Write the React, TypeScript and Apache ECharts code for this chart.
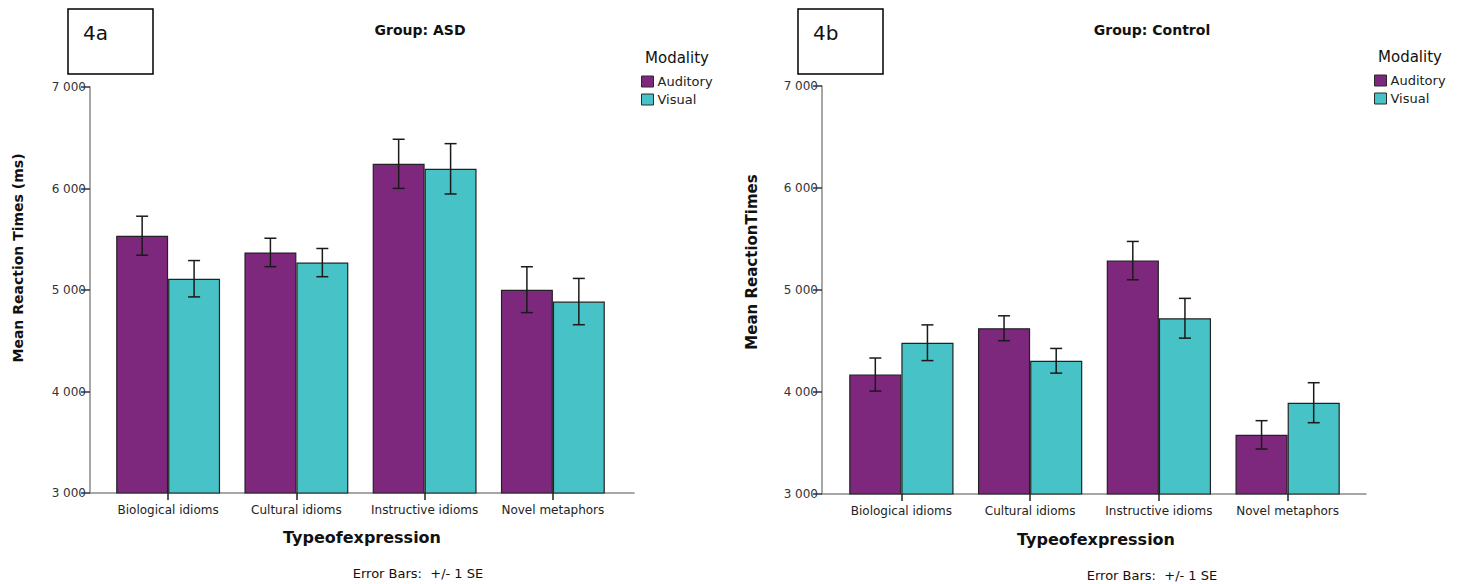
import React, { useEffect, useRef } from 'react';
import * as echarts from 'echarts';

const categories = ['Biological idioms', 'Cultural idioms', 'Instructive idioms', 'Novel metaphors'];
const modalities = ['Auditory', 'Visual'];
const yTicks = [3000, 4000, 5000, 6000, 7000];

const asdAuditoryMean = [5535, 5370, 6243, 5003];
const asdAuditorySE = [192, 140, 242, 226];
const asdVisualMean = [5111, 5270, 6194, 4886];
const asdVisualSE = [179, 139, 248, 228];

const ctrlAuditoryMean = [4171, 4625, 5288, 3580];
const ctrlAuditorySE = [162, 122, 188, 139];
const ctrlVisualMean = [4483, 4306, 4723, 3895];
const ctrlVisualSE = [175, 121, 195, 196];

const PURPLE = '#7e287d';
const TEAL = '#47c2c6';
const FONT = '"DejaVu Sans", sans-serif';
const BAR_GAP = 19; // percent
const barFrac = (1 - BAR_GAP / 100) / 2;

const fmt = (v: number) => String(v).replace(/\B(?=(\d{3})+(?!\d))/g, ' ');

function errRender(sign: number) {
  return (_params: any, api: any) => {
    const x = api.value(0);
    const lo = api.coord([x, api.value(1)]);
    const hi = api.coord([x, api.value(2)]);
    const band = api.size([1, 0])[0];
    const cx = lo[0] + sign * band * barFrac / 2;
    const cap = 6;
    const st = { stroke: '#1a1a1a', lineWidth: 1.5 };
    return {
      type: 'group',
      children: [
        { type: 'line', shape: { x1: cx, y1: hi[1], x2: cx, y2: lo[1] }, style: st },
        { type: 'line', shape: { x1: cx - cap, y1: hi[1], x2: cx + cap, y2: hi[1] }, style: st },
        { type: 'line', shape: { x1: cx - cap, y1: lo[1], x2: cx + cap, y2: lo[1] }, style: st },
      ],
    };
  };
}

const errData = (mean: number[], se: number[]) => mean.map((m, i) => [i, m - se[i], m + se[i]]);

function makeOption() {
  const grids = [
    { left: 90, top: 87, width: 544, height: 406 },
    { left: 104, top: 87, width: 513, height: 406 },
    { left: 822, top: 86, width: 544, height: 408 },
    { left: 837, top: 86, width: 515, height: 408 },
  ];
  const frameX = (gi: number) => ({
    type: 'value', gridIndex: gi, min: 0, max: 1,
    axisLine: { show: true, lineStyle: { color: '#8a8a8a', width: 1.5 } },
    axisTick: { show: false }, axisLabel: { show: false }, splitLine: { show: false },
  });
  const frameY = (gi: number) => ({
    type: 'value', gridIndex: gi, min: yTicks[0], max: yTicks[yTicks.length - 1], interval: 1000,
    axisLine: { show: true, lineStyle: { color: '#8a8a8a', width: 1.5 } },
    axisTick: { show: true, length: 9, lineStyle: { color: '#333', width: 1.5 } },
    axisLabel: { formatter: fmt, color: '#333', fontSize: 12, fontFamily: FONT, margin: 4 },
    splitLine: { show: false },
  });
  const barX = (gi: number) => ({
    type: 'category', gridIndex: gi, data: categories,
    axisLine: { show: false },
    axisTick: { show: true, alignWithLabel: true, length: 7, lineStyle: { color: '#222', width: 1.5 } },
    axisLabel: { color: '#222', fontSize: 12, fontFamily: FONT, margin: 11, interval: 0 },
  });
  const barY = (gi: number) => ({
    type: 'value', gridIndex: gi, min: yTicks[0], max: yTicks[yTicks.length - 1], show: false,
    splitLine: { show: false },
  });

  const barSeries = (name: string, color: string, data: number[], axisIdx: number) => ({
    type: 'bar', name, data, xAxisIndex: axisIdx, yAxisIndex: axisIdx,
    barGap: '0%', barCategoryGap: BAR_GAP + '%',
    itemStyle: { color, borderColor: '#222', borderWidth: 1.2 },
    z: 2,
  });
  const errSeries = (name: string, sign: number, mean: number[], se: number[], axisIdx: number) => ({
    type: 'custom', name: name + ' SE', xAxisIndex: axisIdx, yAxisIndex: axisIdx,
    renderItem: errRender(sign), data: errData(mean, se), encode: { x: 0, y: [1, 2] }, z: 5,
  });

  const legend = (left: number, top: number) => ({
    data: modalities, orient: 'vertical', left, top, icon: 'rect', itemWidth: 12, itemHeight: 11,
    itemGap: 5, selectedMode: false, padding: 0,
    textStyle: { fontSize: 13, fontFamily: FONT, color: '#222', padding: [0, 0, 0, -1] },
    itemStyle: { borderColor: '#2a2a2a', borderWidth: 1 },
  });

  const txt = (text: string, x: number, y: number, font: string, align = 'center', rotation = 0) => ({
    type: 'text', x, y, rotation, silent: true,
    style: { text, font, fill: '#111', align, verticalAlign: 'middle', textAlign: align, textVerticalAlign: 'middle' },
  });

  return {
    animation: false,
    backgroundColor: '#fff',
    grid: grids,
    xAxis: [frameX(0), barX(1), frameX(2), barX(3)],
    yAxis: [frameY(0), barY(1), frameY(2), barY(3)],
    legend: [legend(641, 75), legend(1374, 74)],
    series: [
      barSeries(modalities[0], PURPLE, asdAuditoryMean, 1),
      barSeries(modalities[1], TEAL, asdVisualMean, 1),
      errSeries(modalities[0], -1, asdAuditoryMean, asdAuditorySE, 1),
      errSeries(modalities[1], 1, asdVisualMean, asdVisualSE, 1),
      barSeries(modalities[0], PURPLE, ctrlAuditoryMean, 3),
      barSeries(modalities[1], TEAL, ctrlVisualMean, 3),
      errSeries(modalities[0], -1, ctrlAuditoryMean, ctrlAuditorySE, 3),
      errSeries(modalities[1], 1, ctrlVisualMean, ctrlVisualSE, 3),
    ],
    graphic: [
      { type: 'rect', shape: { x: 68, y: 9, width: 85, height: 65 }, style: { fill: '#fff', stroke: '#000', lineWidth: 1.5 } },
      { type: 'rect', shape: { x: 798, y: 9, width: 85, height: 65 }, style: { fill: '#fff', stroke: '#000', lineWidth: 1.5 } },
      txt('4a', 83, 33, '20px ' + FONT, 'left'),
      txt('4b', 813, 33, '20px ' + FONT, 'left'),
      txt('Group: ASD', 420, 30, 'bold 14px ' + FONT),
      txt('Group: Control', 1152, 30, 'bold 14px ' + FONT),
      txt('Modality', 677, 58, '15px ' + FONT),
      txt('Modality', 1410, 57, '15px ' + FONT),
      txt('Mean Reaction Times (ms)', 18, 258, 'bold 14px ' + FONT, 'center', Math.PI / 2),
      txt('Mean ReactionTimes', 752, 262, 'bold 15px ' + FONT, 'center', Math.PI / 2),
      txt('Typeofexpression', 362, 537, 'bold 16px ' + FONT),
      txt('Typeofexpression', 1096, 539, 'bold 16px ' + FONT),
      txt('Error Bars:  +/- 1 SE', 418, 573, '13px ' + FONT),
      txt('Error Bars:  +/- 1 SE', 1152, 575, '13px ' + FONT),
    ],
  };
}

export default function App() {
  const ref = useRef<HTMLDivElement>(null);
  useEffect(() => {
    document.body.style.margin = '0';
    if (!ref.current) return;
    const chart = echarts.init(ref.current, undefined, { renderer: 'svg' });
    chart.setOption(makeOption() as any);
    return () => chart.dispose();
  }, []);
  return <div ref={ref} style={{ width: 1461, height: 584 }} />;
}
